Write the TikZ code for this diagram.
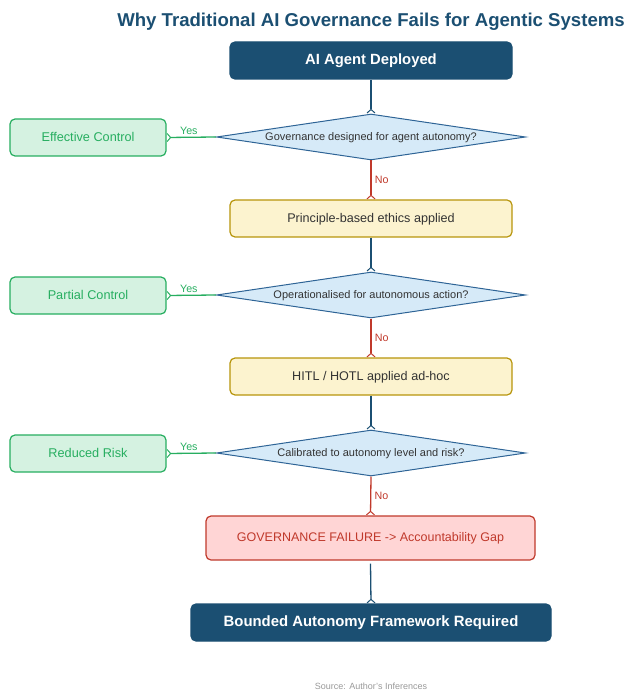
\documentclass[tikz,border=0pt]{standalone}
\usepackage{fontspec}
\setmainfont{Liberation Sans}
\usetikzlibrary{shapes.geometric,arrows.meta}

\definecolor{navy}{HTML}{1B4F72}
\definecolor{qfill}{HTML}{D6EAF8}
\definecolor{qline}{HTML}{2E6496}
\definecolor{okline}{HTML}{27AE60}
\definecolor{okfill}{HTML}{D5F2E1}
\definecolor{warnfill}{HTML}{FCF3CF}
\definecolor{warnline}{HTML}{B7950B}
\definecolor{failfill}{HTML}{FFD5D5}
\definecolor{failline}{HTML}{C0392B}
\definecolor{bodytext}{HTML}{333333}
\definecolor{notegrey}{HTML}{999999}

\tikzset{
  fs/.style={font=\fontsize{#1}{#1}\selectfont},
  % centre every label on its capital letters
  captext/.style={text height=0.72em, text depth=0pt},
  boxbase/.style={rectangle, rounded corners=5pt, line width=1.2pt, inner sep=0pt, captext},
  mainbox/.style={boxbase, draw=navy, fill=navy, text=white, font=\bfseries\fontsize{14.8}{14.8}\selectfont},
  okbox/.style={boxbase, draw=okline, fill=okfill, text=okline, minimum width=156pt, minimum height=37pt, fs=12.7},
  stagebox/.style={boxbase, draw=warnline, fill=warnfill, text=bodytext, minimum width=282pt, minimum height=37pt, fs=12.6},
  failbox/.style={boxbase, draw=failline, fill=failfill, text=failline, minimum width=329pt, minimum height=44pt, fs=12.5},
  decision/.style={diamond, draw=qline, fill=qfill, line width=1pt, inner sep=0pt, aspect=6.7,
    minimum width=309pt, minimum height=46pt, text=bodytext, fs=11, captext},
  tipmark/.style={-{Straight Barb[reversed,length=3.5pt,width=8pt,line width=1pt]}},
  flow/.style={draw=navy, line width=1.3pt, tipmark},
  nopath/.style={draw=failline, line width=1.3pt, tipmark},
  yespath/.style={draw=okline, line width=1.3pt, tipmark},
  yeslabel/.style={text=okline, fs=10.7},
  nolabel/.style={text=failline, fs=10.7},
}

\begin{document}
\begin{tikzpicture}[x=1pt,y=-1pt]
\useasboundingbox (0,0) rectangle (628,692);

% title
\node[text=navy, font=\bfseries\fontsize{18.6}{18.6}\selectfont] (title) at (371,22) {Why Traditional AI Governance Fails for Agentic Systems};

% main column
\node[mainbox, minimum width=282pt, minimum height=37pt] (start) at (371,60.5) {AI Agent Deployed};
\node[decision] (q1) at (371,137) {Governance designed for agent autonomy?};
\node[stagebox] (ethics) at (371,218.5) {Principle-based ethics applied};
\node[decision] (q2) at (371,295) {Operationalised for autonomous action?};
\node[stagebox] (hitl) at (371,376.5) {HITL / HOTL applied ad-hoc};
\node[decision] (q3) at (371,453) {Calibrated to autonomy level and risk?};
\node[failbox] (fail) at (370.5,538) {GOVERNANCE FAILURE -> Accountability Gap};
\node[mainbox, minimum width=360pt, minimum height=37pt, font=\bfseries\fontsize{14.9}{14.9}\selectfont] (bounded) at (371,622.5) {Bounded Autonomy Framework Required};

% side outcomes
\node[okbox] (eff) at (88,137.5) {Effective Control};
\node[okbox] (part) at (88,295.5) {Partial Control};
\node[okbox] (risk) at (88,453.5) {Reduced Risk};

% connectors down the column
\draw[flow] (start.south) -- (q1.north);
\draw[nopath] (q1.south) -- node[nolabel, right, xshift=0pt] (no1) {No} (ethics.north);
\draw[flow] (ethics.south) -- (q2.north);
\draw[nopath] (q2.south) -- node[nolabel, right, xshift=0pt] (no2) {No} (hitl.north);
\draw[flow] (hitl.south) -- (q3.north);
\draw[nopath] (q3.south) -- node[nolabel, right, xshift=0pt] (no3) {No} (fail.north);
\draw[flow] ([yshift=-3pt]fail.south) -- (bounded.north);

% yes branches
\draw[yespath] (q1.west) -- node[yeslabel, above, pos=0.55, yshift=-1.5pt] (yes1) {Yes} (eff.east);
\draw[yespath] (q2.west) -- node[yeslabel, above, pos=0.55, yshift=-1.5pt] (yes2) {Yes} (part.east);
\draw[yespath] (q3.west) -- node[yeslabel, above, pos=0.55, yshift=-1.5pt] (yes3) {Yes} (risk.east);

% footnote
\node[text=notegrey, fs=9] (source) at (371,686) {Source: Author's Inferences};
\end{tikzpicture}
\end{document}
